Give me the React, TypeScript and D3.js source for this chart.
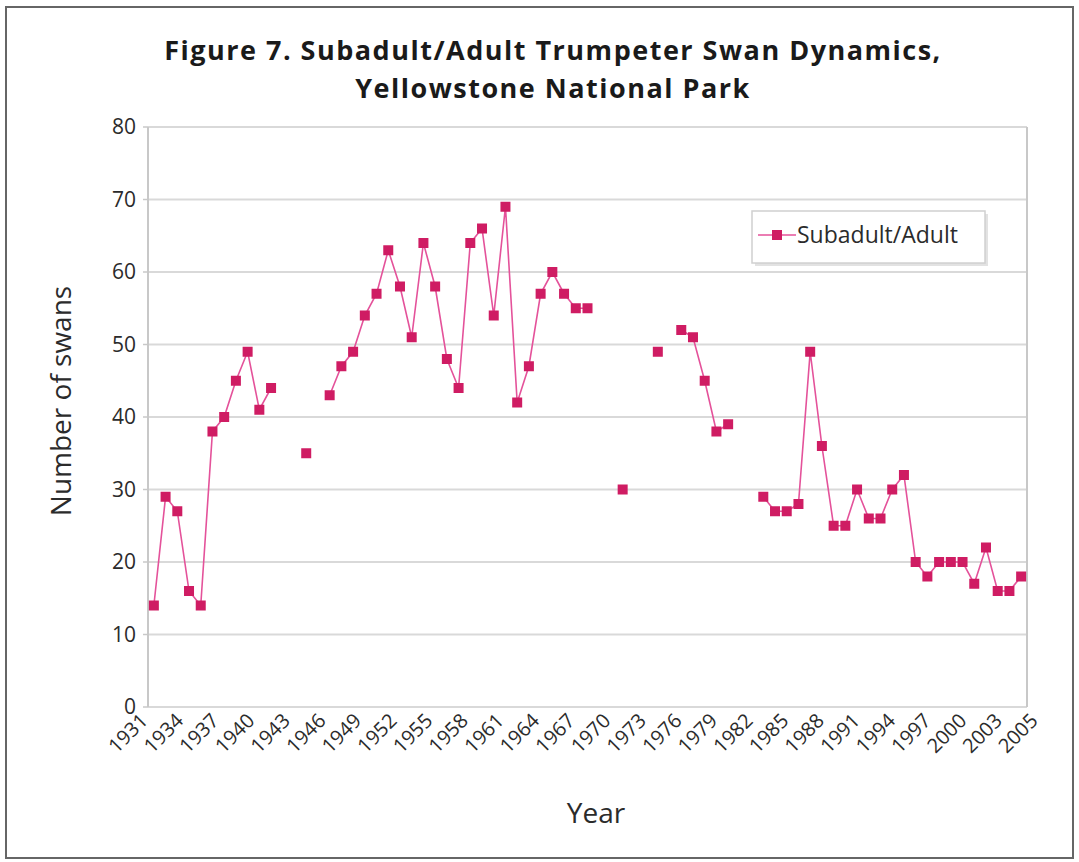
import React from "react";
import * as d3 from "d3";

const years: number[] = [
  1931, 1932, 1933, 1934, 1935, 1936, 1937, 1938, 1939, 1940,
  1941, 1942, 1943, 1944, 1945, 1946, 1947, 1948, 1949, 1950,
  1951, 1952, 1953, 1954, 1955, 1956, 1957, 1958, 1959, 1960,
  1961, 1962, 1963, 1964, 1965, 1966, 1967, 1968, 1969, 1970,
  1971, 1972, 1973, 1974, 1975, 1976, 1977, 1978, 1979, 1980,
  1981, 1982, 1983, 1984, 1985, 1986, 1987, 1988, 1989, 1990,
  1991, 1992, 1993, 1994, 1995, 1996, 1997, 1998, 1999, 2000,
  2001, 2002, 2003, 2004, 2005,
];

const swans: (number | null)[] = [
  14, 29, 27, 16, 14, 38, 40, 45, 49, 41,
  44, null, null, 35, null, 43, 47, 49, 54, 57,
  63, 58, 51, 64, 58, 48, 44, 64, 66, 54,
  69, 42, 47, 57, 60, 57, 55, 55, null, null,
  30, null, null, 49, null, 52, 51, 45, 38, 39,
  null, null, 29, 27, 27, 28, 49, 36, 25, 25,
  30, 26, 26, 30, 32, 20, 18, 20, 20, 20,
  17, 22, 16, 16, 18,
];

const xTickLabels: string[] = [
  "1931", "1934", "1937", "1940", "1943", "1946", "1949", "1952", "1955",
  "1958", "1961", "1964", "1967", "1970", "1973", "1976", "1979", "1982",
  "1985", "1988", "1991", "1994", "1997", "2000", "2003", "2005",
];

const yTicks: number[] = [0, 10, 20, 30, 40, 50, 60, 70, 80];

const titleLines: string[] = [
  "Figure 7. Subadult/Adult Trumpeter Swan Dynamics,",
  "Yellowstone National Park",
];
const seriesName = "Subadult/Adult";
const xTitle = "Year";
const yTitle = "Number of swans";

const W = 1079;
const H = 862;
const plot = { left: 148, right: 1027, top: 127, bottom: 707 };
const FONT = "'Open Sans', 'Noto Sans', sans-serif";
const LINE = "#e4529a";
const MARK = "#cf1c63";
const GRID = "#d9d9d9";
const TEXT = "#2b2b2b";

export default function App() {
  const x = d3
    .scalePoint<number>()
    .domain(years)
    .range([plot.left, plot.right])
    .padding(0.5);
  const y = d3.scaleLinear().domain([0, 80]).range([plot.bottom, plot.top]);
  const labelX = d3
    .scalePoint<string>()
    .domain(xTickLabels)
    .range([149, 1039]);

  const data = years.map((yr, i) => ({ yr, v: swans[i] }));
  const line = d3
    .line<{ yr: number; v: number | null }>()
    .defined((d) => d.v !== null)
    .x((d) => x(d.yr) as number)
    .y((d) => y(d.v as number));

  const ms = 10;
  const legend = { x: 752, y: 211, w: 233, h: 52 };

  return (
    <svg
      width={W}
      height={H}
      style={{ position: "absolute", left: 0, top: 0, background: "#fff" }}
      fontFamily={FONT}
    >
      <rect x={0} y={0} width={W} height={H} fill="#fff" />
      <rect
        x={6}
        y={7}
        width={1067}
        height={851}
        fill="none"
        stroke="#666"
        strokeWidth={2}
      />
      {/* title */}
      {titleLines.map((t, i) => (
        <text
          key={i}
          x={553}
          y={60 + i * 38}
          textAnchor="middle"
          fontSize={27}
          letterSpacing={1.5}
          fontWeight="bold"
          fill="#1a1a1a"
        >
          {t}
        </text>
      ))}
      {/* gridlines */}
      {yTicks.map((t) => (
        <line
          key={t}
          x1={plot.left}
          x2={plot.right}
          y1={y(t)}
          y2={y(t)}
          stroke={GRID}
          strokeWidth={2}
        />
      ))}
      {/* axes */}
      <line
        x1={plot.left}
        x2={plot.left}
        y1={plot.top}
        y2={plot.bottom}
        stroke="#c8c8c8"
        strokeWidth={2}
      />
      <line
        x1={plot.right}
        x2={plot.right}
        y1={plot.top}
        y2={plot.bottom}
        stroke="#c8c8c8"
        strokeWidth={2}
      />
      {yTicks.map((t) => (
        <g key={"yt" + t}>
          <line
            x1={plot.left - 5}
            x2={plot.left}
            y1={y(t)}
            y2={y(t)}
            stroke="#c8c8c8"
            strokeWidth={1.5}
          />
          <text
            x={136}
            y={y(t)}
            dy="0.35em"
            textAnchor="end"
            fontSize={21}
            fill={TEXT}
          >
            {t}
          </text>
        </g>
      ))}
      {xTickLabels.map((l) => (
        <text
          key={"xl" + l}
          transform={`translate(${labelX(l)},${722}) rotate(-45)`}
          textAnchor="end"
          fontSize={20}
          fill={TEXT}
        >
          {l}
        </text>
      ))}
      {/* axis titles */}
      <text
        x={596}
        y={823}
        textAnchor="middle"
        fontSize={28}
        fill={TEXT}
      >
        {xTitle}
      </text>
      <text
        transform={`translate(71,401) rotate(-90)`}
        textAnchor="middle"
        fontSize={28}
        fill={TEXT}
      >
        {yTitle}
      </text>
      {/* series */}
      <path
        d={line(data) || ""}
        fill="none"
        stroke={LINE}
        strokeWidth={1.6}
      />
      {data
        .filter((d) => d.v !== null)
        .map((d) => (
          <rect
            key={"m" + d.yr}
            x={(x(d.yr) as number) - ms / 2}
            y={y(d.v as number) - ms / 2}
            width={ms}
            height={ms}
            fill={MARK}
          />
        ))}
      {/* legend */}
      <rect
        x={legend.x + 3}
        y={legend.y + 3}
        width={legend.w}
        height={legend.h}
        fill="#e2e2e2"
      />
      <rect
        x={legend.x}
        y={legend.y}
        width={legend.w}
        height={legend.h}
        fill="#fff"
        stroke="#d0d0d0"
        strokeWidth={1.5}
      />
      <line
        x1={legend.x + 6}
        x2={legend.x + 44}
        y1={legend.y + 24}
        y2={legend.y + 24}
        stroke={LINE}
        strokeWidth={1.6}
      />
      <rect
        x={legend.x + 25 - ms / 2}
        y={legend.y + 24 - ms / 2}
        width={ms}
        height={ms}
        fill={MARK}
      />
      <text
        x={legend.x + 45}
        y={legend.y + 24}
        dy="0.35em"
        fontSize={23}
        fill={TEXT}
      >
        {seriesName}
      </text>
    </svg>
  );
}
